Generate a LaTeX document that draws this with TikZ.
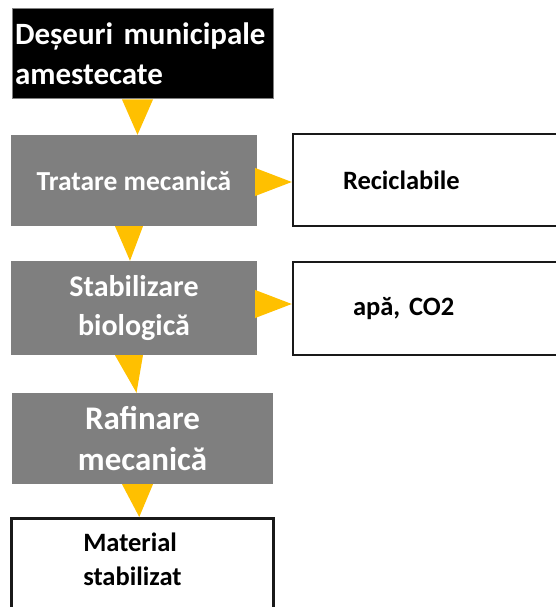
\documentclass[tikz,border=0pt]{standalone}
\usepackage{fontspec}
\setmainfont{Carlito}
\frenchspacing
\usetikzlibrary{calc}
\definecolor{arrowyellow}{HTML}{FFC000}
\definecolor{boxgray}{HTML}{7F7F7F}

\begin{document}
\begin{tikzpicture}[
        x=1pt, y=-1pt,
        start/.style={fill=black, draw=gray, line width=1pt, text=white, font=\bfseries\fontsize{31}{40}\selectfont, minimum width=261pt, minimum height=90pt, text width=255pt, inner xsep=3pt, align=left},
        process/.style={fill=boxgray, text=white, align=center, inner sep=0pt},
        output/.style={fill=white, draw=black!90, line width=2.5pt, font=\bfseries\fontsize{26.5}{34}\selectfont, align=left, minimum height=92pt},
        pointer/.style={fill=arrowyellow}
    ]
        \useasboundingbox (0,0) rectangle (555,607);

        \node[start] (deseuri) at (142.5,54) {Deșeuri municipale\\amestecate};
        \node[process, minimum width=246pt, minimum height=91pt, font=\bfseries\fontsize{27.5}{36}\selectfont] (tratare) at (134,180.5) {Tratare mecanică};
        \node[process, minimum width=246pt, minimum height=94pt, font=\bfseries\fontsize{30}{39}\selectfont] (stabilizare) at (134,308) {Stabilizare\\biologică};
        \node[process, minimum width=261pt, minimum height=91pt, font=\bfseries\fontsize{33}{41}\selectfont] (rafinare) at (142.5,438.5) {Rafinare\\mecanică};

        \node[output, text width=167pt, inner xsep=50pt] (reciclabile) at (426.5,180) {Reciclabile};
        \node[output, text width=147pt, inner xsep=60pt, minimum height=93pt] (apa) at (426.5,308.5) {apă, CO2};
        \node[output, anchor=north west, text width=118pt, inner xsep=72pt, inner ysep=15pt, text depth=80pt] (material) at (10,517) {Material\\stabilizat};

        \fill[pointer] ($(deseuri.south)+(-20.5,0)$) -- ($(deseuri.south)+(10.5,0)$) -- ($(tratare.north)+(3.5,0)$) -- cycle;
        \fill[pointer] ($(tratare.south)+(-19,0)$) -- ($(tratare.south)+(9,0)$) -- ($(stabilizare.north)+(-4,0)$) -- cycle;
        \fill[pointer] ($(stabilizare.south)+(-19,0)$) -- ($(stabilizare.south)+(9,0)$) -- ($(rafinare.north)+(-6,0)$) -- cycle;
        \fill[pointer] ($(rafinare.south)+(-20.5,0)$) -- ($(rafinare.south)+(10.5,0)$) -- ($(material.north)+(-3,0)$) -- cycle;

        \fill[pointer] ($(tratare.east)+(-2,-12.5)$) -- ($(tratare.east)+(-2,15.5)$) -- ($(reciclabile.west)+(0,2)$) -- cycle;
        \fill[pointer] ($(stabilizare.east)+(-2,-18)$) -- ($(stabilizare.east)+(-2,10)$) -- ($(apa.west)+(0,-4.5)$) -- cycle;
    \end{tikzpicture}
\end{document}
